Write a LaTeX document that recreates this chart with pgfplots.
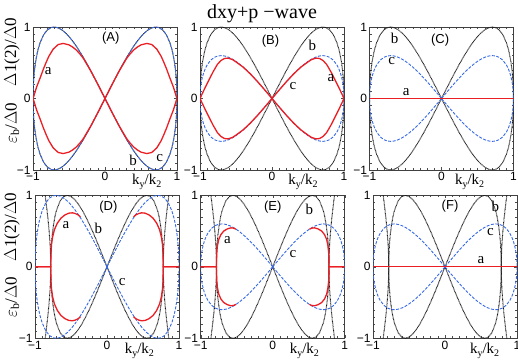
\documentclass[border=0pt]{standalone}
\usepackage{fontspec}
\setmainfont{Liberation Serif}
\setsansfont{Liberation Sans}
\usepackage{pgfplots}
\pgfplotsset{compat=1.18}
\usepackage{pgfplotstable}

\definecolor{cred}{RGB}{235,30,35}
\definecolor{cblue}{RGB}{55,105,230}

% d-wave gap on the k2 surface: amplitude 1 (d1) and 0.6 (d06), x>=0 quarter
\pgfplotstableread{
x d1 d06
0 0 0
0.05 0.0999 0.0599
0.1 0.1990 0.1194
0.15 0.2966 0.1780
0.2 0.3919 0.2351
0.25 0.4841 0.2905
0.3 0.5724 0.3434
0.35 0.6557 0.3934
0.4 0.7332 0.4399
0.45 0.8037 0.4822
0.5 0.8660 0.5196
0.55 0.9187 0.5512
0.6 0.9600 0.5760
0.65 0.9879 0.5927
0.7 0.9998 0.5999
0.75 0.9922 0.5953
0.8 0.9600 0.5760
0.85 0.8955 0.5373
0.9 0.7846 0.4708
0.93 0.6837 0.4102
0.95 0.5933 0.3560
0.97 0.4716 0.2830
0.98 0.3900 0.2340
0.99 0.2793 0.1676
0.995 0.1987 0.1192
0.999 0.0893 0.0536
1 0 0
}\gapd

% gap on the other surface (lower row)
\pgfplotstableread{
x y
0 0
0.05 0.1277
0.1 0.2539
0.15 0.3769
0.2 0.4949
0.25 0.6063
0.3 0.7091
0.35 0.8011
0.4 0.8796
0.45 0.9417
0.5 0.9835
0.55 1.0000
0.6 0.9837
0.65 0.9232
0.7 0.7957
0.72 0.7154
0.74 0.6074
0.76 0.4507
0.77 0.3333
0.775 0.2505
0.779 0.1512
0.78125 0
0.783 0.1342
0.786 0.2222
0.79 0.3035
0.8 0.4514
0.81 0.5677
0.82 0.6693
0.83 0.7622
0.84 0.8495
0.85 0.9327
0.86 1.0131
0.87 1.0913
}\gapb

% bound state energies
\pgfplotstableread{
x y
0 0
0.1 0.199
0.2 0.390
0.3 0.560
0.35 0.625
0.4 0.680
0.45 0.720
0.5 0.750
0.58 0.770
0.65 0.755
0.72 0.690
0.78 0.590
0.82 0.500
0.86 0.400
0.9 0.290
0.95 0.160
0.985 0.045
1 0
}\epsA

\pgfplotstableread{
x y
0 0
0.1 0.119
0.2 0.235
0.3 0.343
0.4 0.438
0.5 0.512
0.55 0.545
0.61 0.565
0.66 0.560
0.71 0.530
0.76 0.475
0.82 0.370
0.88 0.250
0.93 0.150
0.97 0.065
1 0
}\epsB

\pgfplotstableread{
x y
1 0
0.781 0
0.780 0.10
0.778 0.20
0.770 0.32
0.755 0.42
0.73 0.52
0.69 0.61
0.64 0.68
0.585 0.725
0.53 0.75
0.48 0.755
0.44 0.745
0.40 0.725
0.37 0.70
}\epsD

\pgfplotstableread{
x y
1 0
0.781 0
0.780 0.10
0.777 0.20
0.768 0.29
0.75 0.38
0.72 0.45
0.68 0.50
0.63 0.53
0.58 0.545
0.54 0.54
0.51 0.525
}\epsE

\pgfplotstableread{
x y
-1 0
1 0
}\zero

\newcommand{\quadplot}[3]{%
  \addplot[#1] table[x=x,y=#3]{#2};
  \addplot[#1] table[x expr=-\thisrow{x},y=#3]{#2};
  \addplot[#1] table[x=x,y expr=-\thisrow{#3}]{#2};
  \addplot[#1] table[x expr=-\thisrow{x},y expr=-\thisrow{#3}]{#2};
}
\newcommand{\kk}{k\raisebox{-0.4ex}{\fontsize{10}{10}\selectfont y}/k\raisebox{-0.4ex}{\fontsize{10}{10}\selectfont 2}}

\tikzset{
  lab/.style={font=\fontsize{15}{15}\selectfont},
  plab/.style={font=\sffamily\fontsize{13}{13}\selectfont},
  klab/.style={font=\fontsize{15}{15}\selectfont, anchor=base},
}
\pgfplotsset{
  pan/.style={
    scale only axis, width=144pt, height=143pt, anchor=south west,
    xmin=-1, xmax=1, ymin=-1, ymax=1,
    xtick={-1,0,1}, ytick={-1,0,1},
    xticklabels={−1,0,1}, yticklabels={−1,0,1},
    minor tick num=9,
    tick align=inside,
    major tick length=3pt, minor tick length=2pt,
    tick style={black!70, line width=0.4pt},
    tick label style={font=\sffamily\fontsize{12}{12}\selectfont},
    xticklabel style={yshift=1pt},
    yticklabel style={xshift=1pt},
    axis line style={black!75, line width=0.6pt},
    clip=true,
  },
  bl/.style={black!90, line width=1pt, dash pattern=on 0.7pt off 0.6pt},
  bu/.style={cblue, line width=0.9pt, dash pattern=on 3pt off 1.5pt},
  rd/.style={cred, line width=1.3pt},
}

\begin{document}
\begin{tikzpicture}
\useasboundingbox (0,0) rectangle (518pt,361pt);

\node[font=\fontsize{20}{20}\selectfont] at (262pt,347pt) {dxy+p −wave};

% y labels
\foreach \yy/\zz in {309/238, 134/64}{
  \node[rotate=90, font=\fontsize{17}{17}\selectfont] at (12pt,\yy pt) {$\Delta$1(2)/$\Delta$0};
  \node[rotate=90, font=\fontsize{17}{17}\selectfont] at (12pt,\zz pt) {$\varepsilon_{\mathrm{b}}$/$\Delta$0};
}

% (A)
\begin{axis}[pan, at={(33pt,191pt)}]
\quadplot{bl}{\gapd}{d1}
\quadplot{bu}{\gapd}{d1}
\quadplot{rd}{\epsA}{y}
\node[plab] at (axis cs:0.08,0.85) {(A)};
\node[lab] at (axis cs:-0.79,0.39) {a};
\node[lab] at (axis cs:0.39,-0.87) {b};
\node[lab] at (axis cs:0.76,-0.83) {c};
\end{axis}
\node[klab] at (33pt+0.79*144pt,191pt-15pt) {\kk};

% (B)
\begin{axis}[pan, at={(200pt,191pt)}]
\quadplot{bl}{\gapd}{d1}
\quadplot{bu}{\gapd}{d06}
\quadplot{rd}{\epsB}{y}
\node[plab] at (axis cs:-0.02,0.8) {(B)};
\node[lab] at (axis cs:0.56,0.75) {b};
\node[lab] at (axis cs:0.82,0.29) {a};
\node[lab] at (axis cs:0.29,0.18) {c};
\end{axis}
\node[klab] at (200pt+0.715*144pt,191pt-15pt) {\kk};

% (C)
\begin{axis}[pan, at={(369.5pt,191pt)}]
\quadplot{bl}{\gapd}{d1}
\quadplot{bu}{\gapd}{d06}
\addplot[rd] table[x=x,y=y]{\zero};
\node[plab] at (axis cs:-0.02,0.82) {(C)};
\node[lab] at (axis cs:-0.65,0.84) {b};
\node[lab] at (axis cs:-0.69,0.52) {c};
\node[lab] at (axis cs:-0.49,0.09) {a};
\end{axis}
\node[klab] at (369.5pt+0.695*144pt,191pt-15pt) {\kk};

% (D)
\begin{axis}[pan, at={(35pt,22.7pt)}]
\quadplot{bl}{\gapb}{y}
\quadplot{bu}{\gapd}{d1}
\quadplot{rd}{\epsD}{y}
\node[plab] at (axis cs:0.02,0.84) {(D)};
\node[lab] at (axis cs:-0.57,0.59) {a};
\node[lab] at (axis cs:-0.12,0.54) {b};
\node[lab] at (axis cs:0.21,-0.21) {c};
\end{axis}
\node[klab] at (35pt+0.725*144pt,22.7pt-15pt) {\kk};

% (E)
\begin{axis}[pan, at={(200.7pt,22.7pt)}]
\quadplot{bl}{\gapb}{y}
\quadplot{bu}{\gapd}{d06}
\quadplot{rd}{\epsE}{y}
\node[plab] at (axis cs:0,0.84) {(E)};
\node[lab] at (axis cs:-0.63,0.37) {a};
\node[lab] at (axis cs:0.51,0.80) {b};
\node[lab] at (axis cs:0.28,0.18) {c};
\end{axis}
\node[klab] at (200.7pt+0.72*144pt,22.7pt-15pt) {\kk};

% (F)
\begin{axis}[pan, at={(373pt,22.7pt)}]
\quadplot{bl}{\gapb}{y}
\quadplot{bu}{\gapd}{d06}
\addplot[rd] table[x=x,y=y]{\zero};
\node[plab] at (axis cs:0.07,0.85) {(F)};
\node[lab] at (axis cs:0.70,0.85) {b};
\node[lab] at (axis cs:0.63,0.48) {c};
\node[lab] at (axis cs:0.50,0.09) {a};
\end{axis}
\node[klab] at (373pt+0.775*144pt,22.7pt-15pt) {\kk};
\end{tikzpicture}
\end{document}
